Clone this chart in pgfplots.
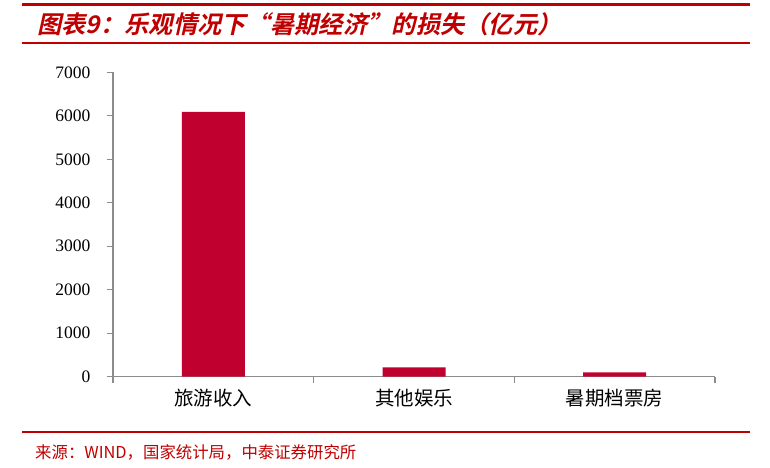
\documentclass[border=0pt]{standalone}
\usepackage{fontspec}
\setmainfont{Liberation Serif}
\newfontfamily\cjk{Noto Sans CJK SC}
\newfontfamily\cjktitle[FakeSlant=0.22]{Noto Sans CJK SC Bold}
\usepackage{pgfplots}
\pgfplotsset{compat=1.18}
\definecolor{barred}{RGB}{192,0,47}
\definecolor{hdrred}{RGB}{192,0,0}
\definecolor{axgray}{RGB}{140,140,140}

\begin{document}
\begin{tikzpicture}[x=1pt,y=1pt]
% page frame, 770 x 467
\path (0,0) rectangle (770,467);
\draw[hdrred, line width=3pt] (22,462) -- (750,462);
\node[anchor=west, text=hdrred, inner sep=0pt] at (37,443)
  {\cjktitle\fontsize{24.3}{24.3}\selectfont 图表9：乐观情况下“暑期经济”的损失（亿元）};
\draw[hdrred, line width=1.2pt] (22,424) -- (750,424);

\begin{axis}[
  at={(113pt,90.3pt)}, anchor=south west,
  scale only axis, width=602pt, height=304.4pt,
  xmin=-0.5, xmax=2.5, ymin=0, ymax=7000,
  axis x line*=bottom, axis y line*=left,
  axis line style={axgray, line width=1.3pt},
  tick style={axgray, line width=1.3pt},
  tick align=outside, major tick length=6pt,
  ytick={0,1000,...,7000},
  xtick={-0.5,0.5,1.5,2.5}, xticklabels={},
  extra x ticks={0,1,2},
  extra x tick labels={旅游收入,其他娱乐,暑期档票房},
  extra x tick style={major tick length=0pt,
    tick label style={font=\cjk\fontsize{19.5}{19.5}\selectfont, yshift=-9pt}},
  yticklabel style={font=\fontsize{17.5}{17.5}\selectfont, xshift=-13pt},
  /pgf/number format/assume math mode=true,
  /pgf/number format/1000 sep={},
  ybar, bar width=63pt,
]
  \addplot[fill=barred, draw=none] coordinates {
    (0, 6090)
    (1, 215)
    (2, 100)
  };
\end{axis}

\draw[hdrred, line width=1.3pt] (22,35) -- (750,35);
\node[anchor=west, text=hdrred, inner sep=0pt] at (35,15)
  {\cjk\fontsize{16.4}{16.4}\selectfont 来源：WIND，国家统计局，中泰证券研究所};
\end{tikzpicture}
\end{document}
